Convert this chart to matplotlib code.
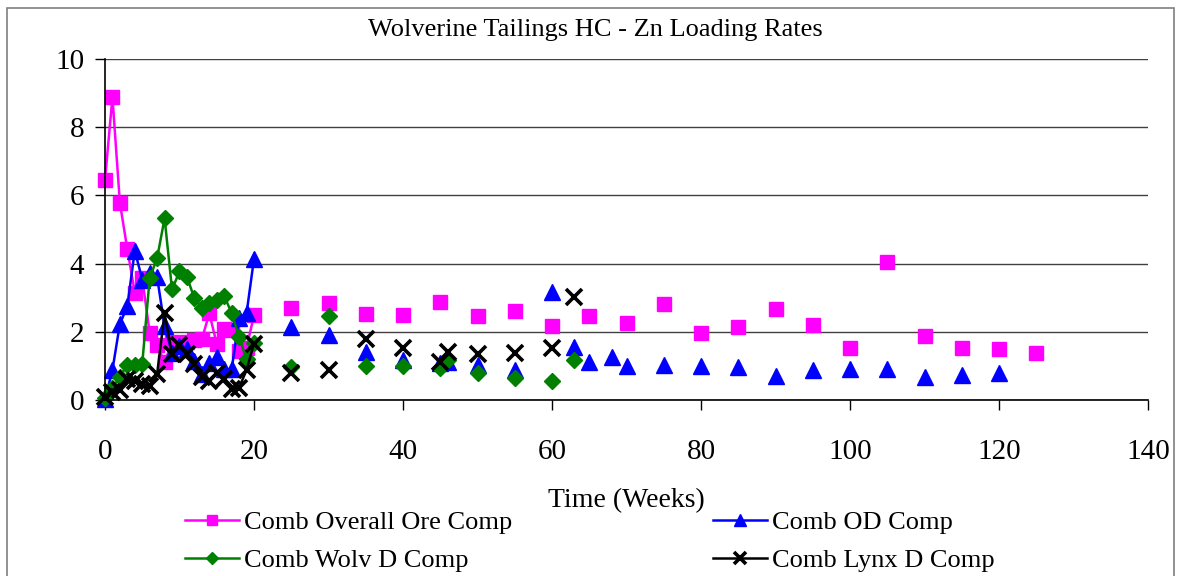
import numpy as np
import matplotlib
matplotlib.use("Agg")
import matplotlib.pyplot as plt
from matplotlib.patches import Rectangle

plt.rcParams['font.family'] = ['Liberation Serif', 'DejaVu Serif']

TITLE = "Wolverine Tailings HC - Zn Loading Rates"
XLABEL = "Time (Weeks)"

# weekly sampling for the first 20 weeks, then sparse
weeks_early = list(range(0, 21))

ore_early = [6.45, 8.88, 5.78, 4.42, 3.15, 3.57, 1.96, 1.62, 1.10, 1.71, 1.66,
             1.70, 1.77, 1.78, 2.54, 1.65, 2.09, 2.05, 1.43, 1.53, 2.48]
ore_late_wk = [25, 30, 35, 40, 45, 50, 55, 60, 65, 70, 75, 80, 85, 90, 95, 100,
               105, 110, 115, 120, 125]
ore_late = [2.69, 2.83, 2.52, 2.50, 2.86, 2.47, 2.61, 2.17, 2.46, 2.25, 2.82,
            1.95, 2.14, 2.67, 2.19, 1.52, 4.06, 1.89, 1.53, 1.49, 1.39]

od_early = [0.02, 0.88, 2.23, 2.75, 4.38, 3.53, 3.73, 3.60, 2.16, 1.38, 1.58,
            1.50, 1.15, 0.76, 1.08, 1.26, 0.90, 0.90, 2.40, 2.54, 4.14]
od_late_wk = [25, 30, 35, 40, 45, 46, 50, 55, 60, 63, 65, 68, 70, 75, 80, 85,
              90, 95, 100, 105, 110, 115, 120]
od_late = [2.15, 1.90, 1.42, 1.17, 1.08, 1.10, 1.03, 0.88, 3.18, 1.56, 1.12,
           1.27, 1.00, 1.03, 1.00, 0.98, 0.71, 0.88, 0.92, 0.92, 0.66, 0.73, 0.78]

wolv_early = [0.05, 0.35, 0.68, 1.04, 1.04, 1.06, 3.58, 4.16, 5.33, 3.24, 3.77,
              3.61, 2.98, 2.71, 2.83, 2.93, 3.05, 2.55, 1.85, 1.19, 1.67]
wolv_late_wk = [25, 30, 35, 40, 45, 46, 50, 55, 60, 63]
wolv_late = [0.96, 2.47, 1.01, 1.01, 0.93, 1.16, 0.80, 0.63, 0.56, 1.16]

lynx_early = [0.10, 0.22, 0.30, 0.62, 0.55, 0.46, 0.40, 0.77, 2.54, 1.36, 1.60,
              1.36, 1.05, 0.66, 0.56, 0.80, 0.62, 0.33, 0.36, 0.88, 1.65]
lynx_late_wk = [25, 30, 35, 40, 45, 46, 50, 55, 60, 63]
lynx_late = [0.80, 0.88, 1.78, 1.52, 1.12, 1.42, 1.35, 1.37, 1.52, 3.01]


def weekly(early, late_wk, late):
    # put everything on a weekly grid; empty weeks are NaN so lines break like Excel
    wk = np.arange(0, max(late_wk) + 1)
    vals = np.full(len(wk), np.nan)
    vals[weeks_early] = early
    vals[late_wk] = late
    return wk, vals


series = [
    ("Comb Overall Ore Comp", weekly(ore_early, ore_late_wk, ore_late),
     dict(color="#FF00FF", marker="s", markersize=10.5)),
    ("Comb OD Comp", weekly(od_early, od_late_wk, od_late),
     dict(color="#0000FF", marker="^", markersize=12)),
    ("Comb Wolv D Comp", weekly(wolv_early, wolv_late_wk, wolv_late),
     dict(color="#008000", marker="D", markersize=8.5)),
    ("Comb Lynx D Comp", weekly(lynx_early, lynx_late_wk, lynx_late),
     dict(color="#000000", marker="x", markersize=11, markeredgewidth=2.6)),
]

fig = plt.figure(figsize=(11.77, 5.76), dpi=100)
ax = fig.add_axes([0.0892, 0.3056, 0.9754 - 0.0892, 0.8976 - 0.3056])

lines = []
for label, (wk, vals), style in series:
    (ln,) = ax.plot(wk, vals, linewidth=1.8, label=label, clip_on=False, **style)
    lines.append(ln)

ax.set_xlim(0, 140)
ax.set_ylim(0, 10)
ax.set_xticks(np.arange(0, 141, 20))
ax.set_yticks(np.arange(0, 11, 2))
ax.grid(axis="y", color="#404040", linewidth=1)
ax.set_axisbelow(True)
for side in ["top", "right"]:
    ax.spines[side].set_visible(False)
for side in ["left", "bottom"]:
    ax.spines[side].set_linewidth(1.2)
ax.tick_params(axis="both", labelsize=21, direction="out", length=7, width=1)
ax.tick_params(axis="x", pad=21)
ax.tick_params(axis="y", pad=8)
ax.set_xlabel(XLABEL, fontsize=20, labelpad=17)

fig.text(0.506, 0.948, TITLE, ha="center", va="center", fontsize=19)

# Excel fills the legend row by row
order = [0, 2, 1, 3]
fig.legend([lines[i] for i in order], [series[i][0] for i in order],
           loc="upper left", bbox_to_anchor=(0.148, 0.132), ncol=2, frameon=False,
           fontsize=19, handlelength=2.05, handletextpad=0.2, columnspacing=7.6,
           labelspacing=0.55, borderaxespad=0, markerscale=0.75)

# outer chart border (cut off at the bottom in the original)
fig.patches.append(Rectangle((7 / 1177, -0.2), 1167 / 1177, 1.2 - 8 / 576,
                             transform=fig.transFigure, fill=False,
                             edgecolor="#7f7f7f", linewidth=1.2))

fig.savefig("out.png", dpi=100)
